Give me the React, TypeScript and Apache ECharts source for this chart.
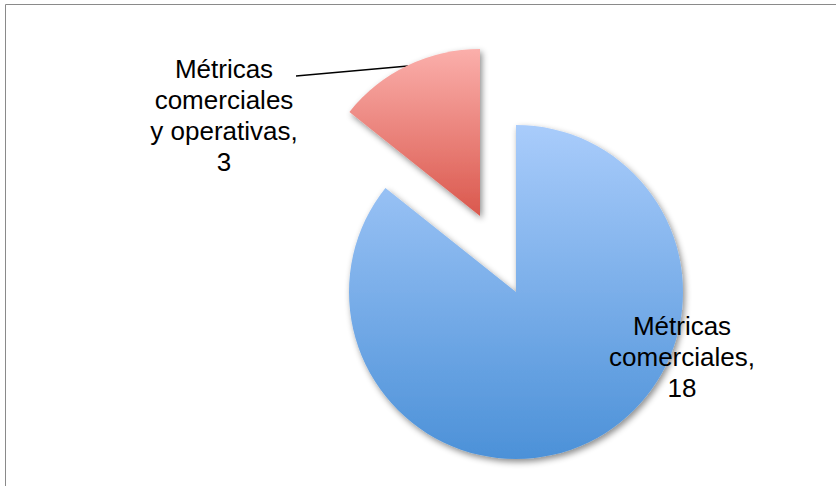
import React, { useEffect, useRef } from "react";
import * as echarts from "echarts";

const categories = ["Métricas\ncomerciales", "Métricas\ncomerciales\ny operativas"];
const values = [18, 3];

const gradients = [
  ["#a9ccfb", "#4c91d8"],
  ["#fbafab", "#da584d"],
];

// slice centres: the main pie and the exploded slice
const pieCenters: [number, number][] = [
  [516, 292],
  [480, 216],
];

export default function App() {
  const ref = useRef<HTMLDivElement>(null);
  useEffect(() => {
    if (!ref.current) return;
    const chart = echarts.init(ref.current, null, { renderer: "svg" });

    const makeData = (visibleIndex: number) =>
      categories.map((name, i) => ({
        name,
        value: values[i],
        label: { show: i === visibleIndex },
        labelLine: { show: i === visibleIndex && i === 1 },
        itemStyle:
          i === visibleIndex
            ? {
                color: new echarts.graphic.LinearGradient(0, 0, 0, 1, [
                  { offset: 0, color: gradients[i][0] },
                  { offset: 1, color: gradients[i][1] },
                ]),
                shadowColor: "rgba(0,0,0,0.45)",
                shadowBlur: 6,
                shadowOffsetX: 2,
                shadowOffsetY: 3,
              }
            : { color: "rgba(0,0,0,0)", shadowBlur: 0, shadowColor: "rgba(0,0,0,0)" },
      }));

    const baseSeries = (idx: number) => ({
      type: "pie",
      center: pieCenters[idx],
      radius: 167,
      startAngle: 90,
      clockwise: true,
      avoidLabelOverlap: false,
      silent: true,
      emphasis: { disabled: true },
      label: {
        show: true,
        position: "outside",
        formatter: (p: any) => `${p.name},\n${p.value}`,
        fontFamily: "Liberation Sans",
        fontSize: 26,
        lineHeight: 31,
        color: "#000000",
        align: "center",
      },
      labelLine: {
        lineStyle: { color: "#000000", width: 1.5 },
      },
      data: makeData(idx),
    });

    chart.setOption({
      animation: false,
      backgroundColor: "#ffffff",
      graphic: [
        {
          type: "rect",
          shape: { x: 5.5, y: 4.5, width: 1000, height: 1000 },
          style: { fill: "none", stroke: "#8a8a8a", lineWidth: 1 },
          silent: true,
          z: 0,
        },
      ],
      series: [
        {
          ...baseSeries(0),
          labelLayout: () => ({ x: 682, y: 357, align: "center", verticalAlign: "middle" }),
        },
        {
          ...baseSeries(1),
          labelLayout: () => ({
            x: 224,
            y: 115,
            align: "center",
            verticalAlign: "middle",
            labelLinePoints: [
              [408, 66],
              [352, 71],
              [296, 76],
            ],
          }),
        },
      ],
    });
    return () => chart.dispose();
  }, []);
  return (
    <div
      ref={ref}
      style={{ position: "fixed", left: 0, top: 0, width: 836, height: 486 }}
    />
  );
}
